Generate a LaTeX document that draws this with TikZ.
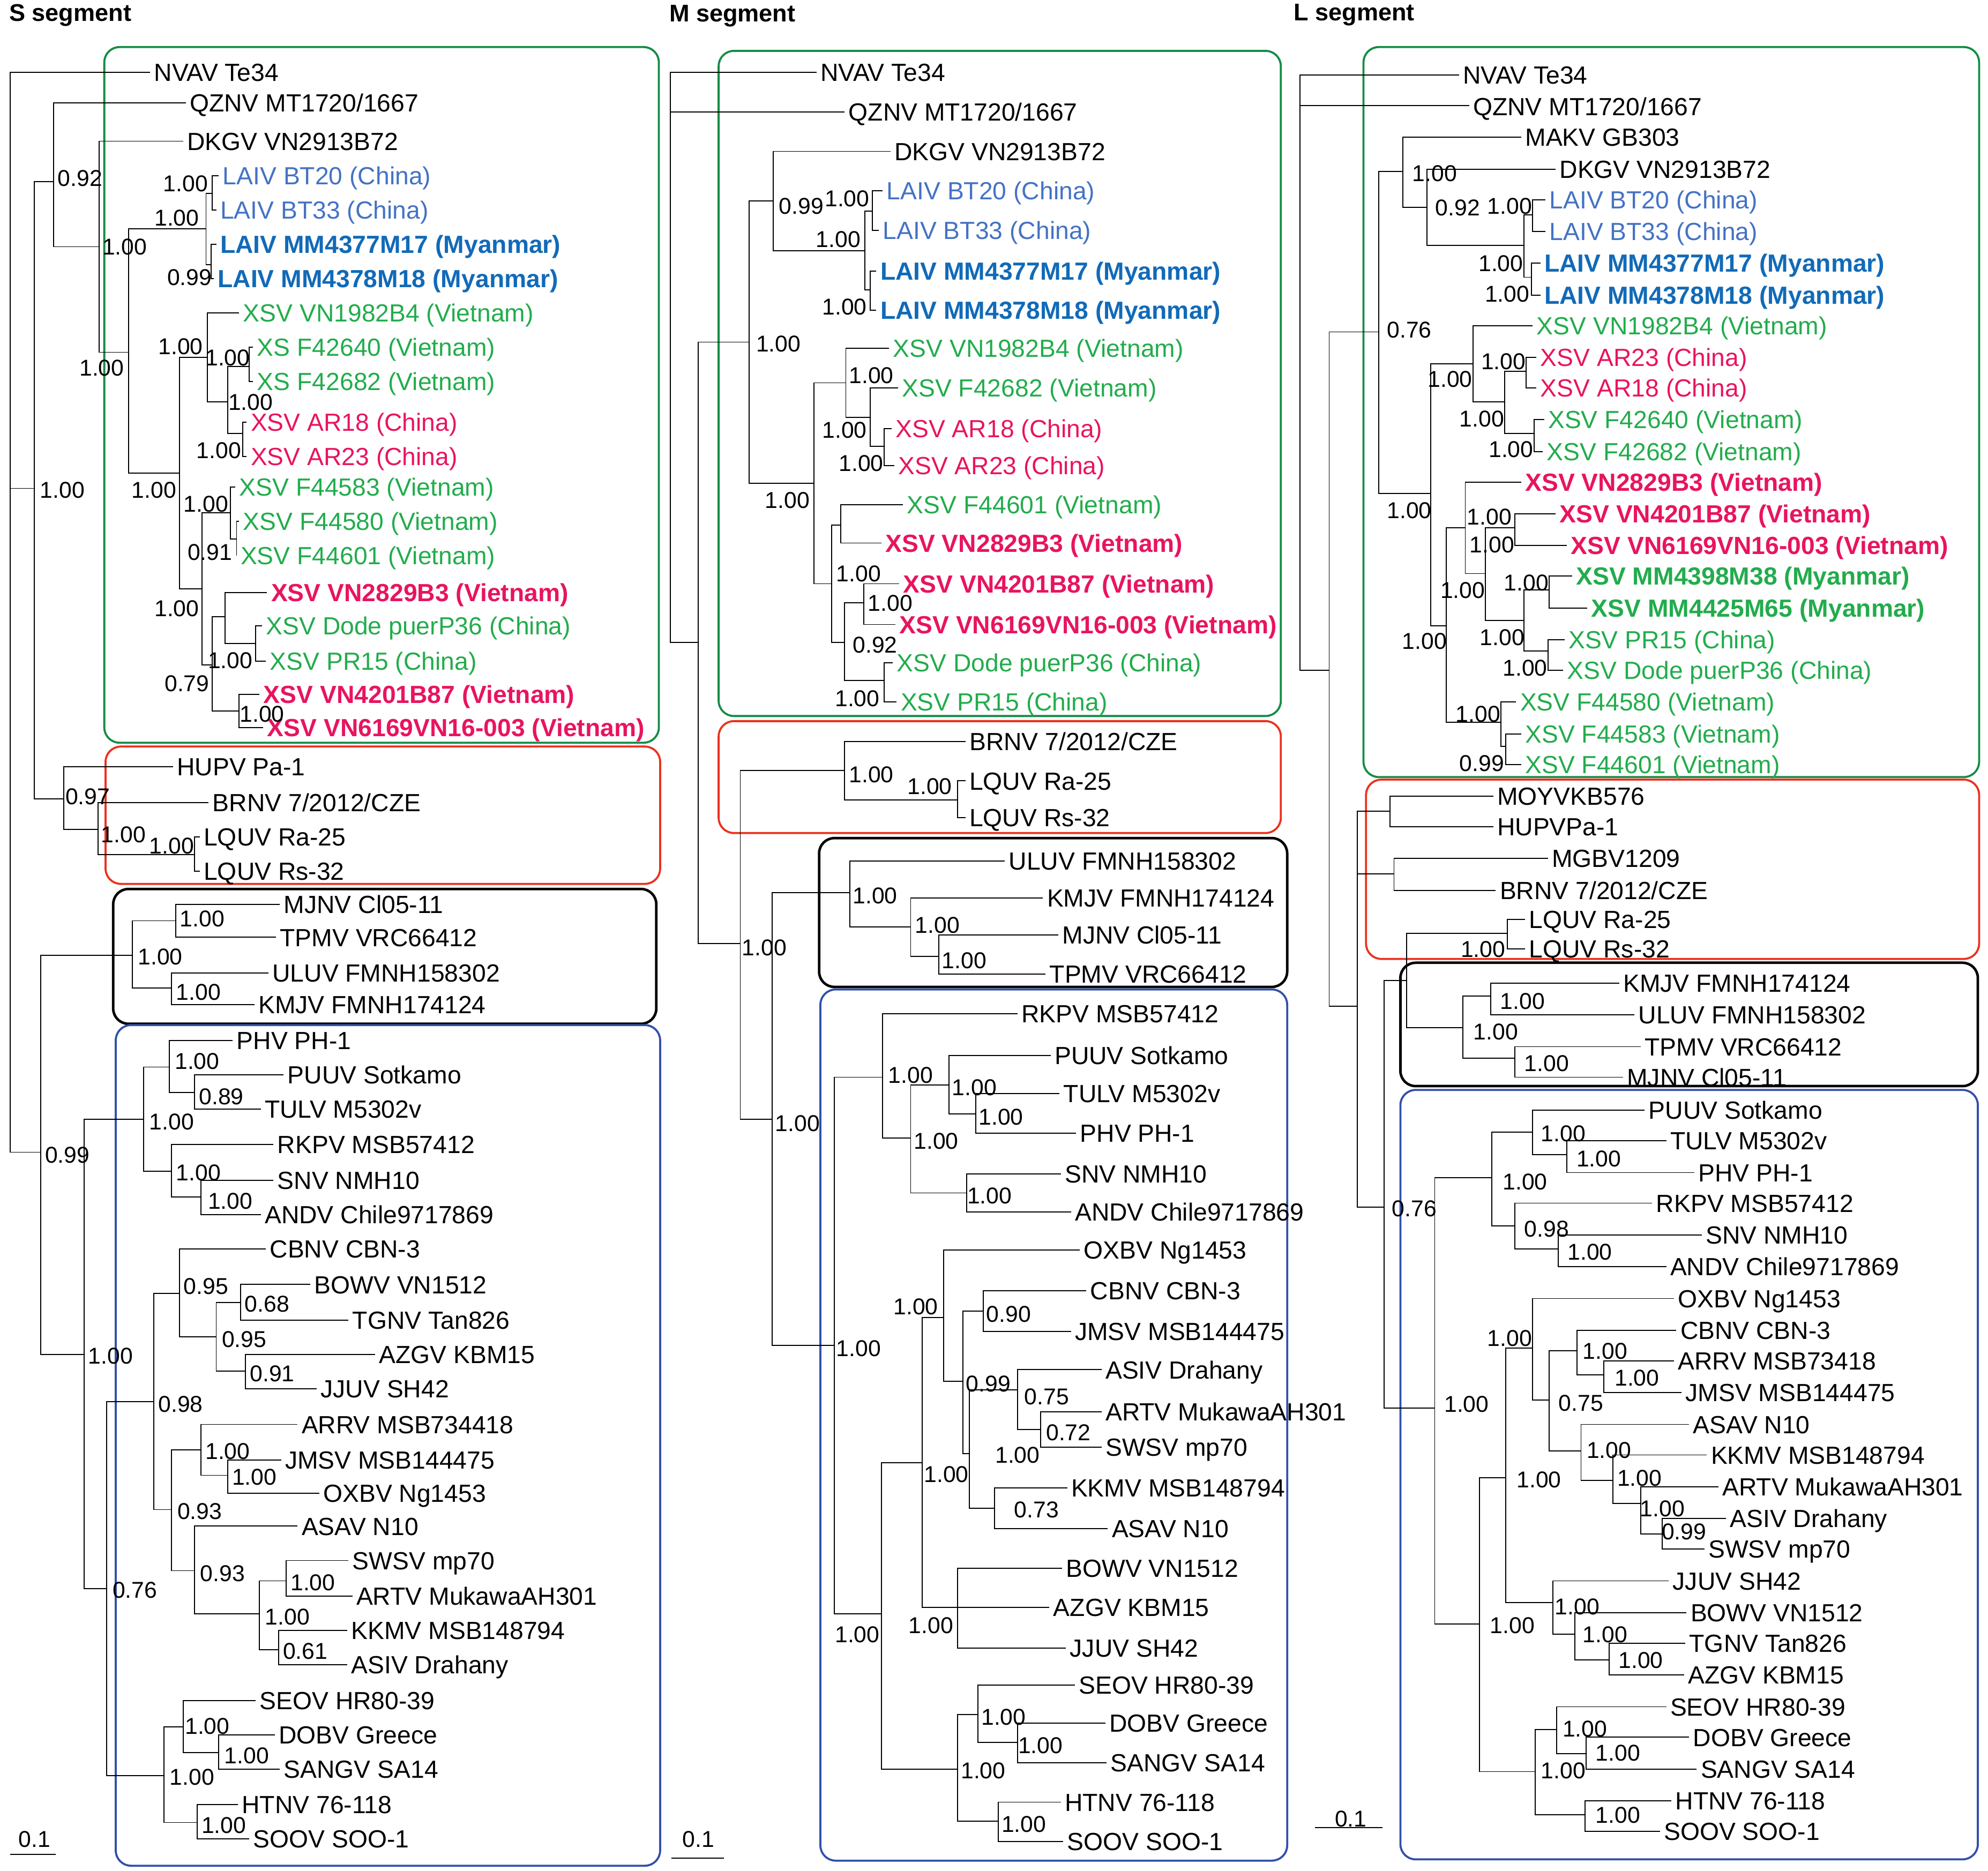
\documentclass[tikz,border=0pt]{standalone}
\usepackage{fontspec}
\setmainfont{Liberation Sans}
\definecolor{lblue}{RGB}{68,114,196}
\definecolor{dblue}{RGB}{17,106,184}
\definecolor{tgreen}{RGB}{34,172,76}
\definecolor{tred}{RGB}{232,20,95}
\definecolor{gbox}{RGB}{20,140,70}
\definecolor{rbox}{RGB}{235,50,30}
\definecolor{bbox}{RGB}{50,80,170}
\newcounter{lfc}
\newcommand\Lf[4][]{\stepcounter{lfc}\node[leaf,#1] (n\arabic{lfc}) at (#2,#3) {#4};}
\newcommand\Bn[5]{\draw[br] (#2,#3) -| (#1,#5) -- (#4,#5);}
\newcommand\Bs[3]{\node[bsl] at (#1,#2) {#3};}
\begin{document}
\begin{tikzpicture}[x=1pt,y=-1pt,
  leaf/.style={anchor=west,inner sep=0pt,font=\fontsize{19.5}{21}\selectfont,text height=14pt,text depth=0pt},
  bsl/.style={inner sep=0pt,font=\fontsize{18}{19}\selectfont,text height=13pt,text depth=0pt},
  br/.style={line width=0.8pt},
  lb/.style={text=lblue}, db/.style={text=dblue,font=\fontsize{19.5}{21}\selectfont\bfseries},
  gr/.style={text=tgreen}, rd/.style={text=tred},
  rb/.style={text=tred,font=\fontsize{19.5}{21}\selectfont\bfseries},
  gb/.style={text=tgreen,font=\fontsize{19.5}{21}\selectfont\bfseries},
  box/.style={rounded corners=12pt,line width=1.6pt},
  hd/.style={anchor=north west,inner sep=0pt,font=\fontsize{19}{21}\selectfont\bfseries}]
\useasboundingbox (0,0) rectangle (1563,1471);
% headers
\node[hd] (hS) at (7,3) {S segment};
\node[hd] (hM) at (526,4) {M segment};
\node[hd] (hL) at (1017,3) {L segment};
% boxes
\draw[box,gbox] (82,37) rectangle (518,584);
\draw[box,rbox] (83,587) rectangle (519,695);
\draw[box,black,line width=2pt] (89,699) rectangle (516,805);
\draw[box,bbox] (91,806) rectangle (519,1467);
\draw[box,gbox] (565,40) rectangle (1007,563);
\draw[box,rbox] (565,567) rectangle (1007,655);
\draw[box,black,line width=2pt] (644,659) rectangle (1012,776);
\draw[box,bbox] (645,778) rectangle (1012,1463);
\draw[box,gbox] (1072,37) rectangle (1556,611);
\draw[box,rbox] (1074,613) rectangle (1556,754);
\draw[box,black,line width=2pt] (1101,757) rectangle (1555,854);
\draw[box,bbox] (1101,857) rectangle (1555,1462);
% ================= S segment =================
\Lf{121}{57}{NVAV Te34}
\Lf{149}{81}{QZNV MT1720/1667}
\Lf{147}{111}{DKGV VN2913B72}
\Lf[lb]{175}{138}{LAIV BT20 (China)}
\Lf[lb]{173}{165}{LAIV BT33 (China)}
\Lf[db]{173}{192}{LAIV MM4377M17 (Myanmar)}
\Lf[db]{171}{219}{LAIV MM4378M18 (Myanmar)}
\Lf[gr]{191}{246}{XSV VN1982B4 (Vietnam)}
\Lf[gr]{202}{273}{XS F42640 (Vietnam)}
\Lf[gr]{202}{300}{XS F42682 (Vietnam)}
\Lf[rd]{197}{332}{XSV AR18 (China)}
\Lf[rd]{197}{359}{XSV AR23 (China)}
\Lf[gr]{188}{383}{XSV F44583 (Vietnam)}
\Lf[gr]{191}{410}{XSV F44580 (Vietnam)}
\Lf[gr]{189}{437}{XSV F44601 (Vietnam)}
\Lf[rb]{213}{466}{XSV VN2829B3 (Vietnam)}
\Lf[gr]{209}{492}{XSV Dode puerP36 (China)}
\Lf[gr]{212}{520}{XSV PR15 (China)}
\Lf[rb]{207}{546}{XSV VN4201B87 (Vietnam)}
\Lf[rb]{210}{572}{XSV VN6169VN16-003 (Vietnam)}
\Lf{139}{603}{HUPV Pa-1}
\Lf{167}{631}{BRNV 7/2012/CZE}
\Lf{160}{658}{LQUV Ra-25}
\Lf{160}{685}{LQUV Rs-32}
\Lf{223}{711}{MJNV Cl05-11}
\Lf{220}{737}{TPMV VRC66412}
\Lf{214}{765}{ULUV FMNH158302}
\Lf{203}{790}{KMJV FMNH174124}
\Lf{186}{818}{PHV PH-1}
\Lf{226}{845}{PUUV Sotkamo}
\Lf{208}{872}{TULV M5302v}
\Lf{218}{900}{RKPV MSB57412}
\Lf{218}{928}{SNV NMH10}
\Lf{208}{955}{ANDV Chile9717869}
\Lf{212}{982}{CBNV CBN-3}
\Lf{247}{1010}{BOWV VN1512}
\Lf{277}{1038}{TGNV Tan826}
\Lf{298}{1065}{AZGV KBM15}
\Lf{252}{1092}{JJUV SH42}
\Lf{237}{1120}{ARRV MSB734418}
\Lf{224}{1148}{JMSV MSB144475}
\Lf{254}{1174}{OXBV Ng1453}
\Lf{237}{1200}{ASAV N10}
\Lf{277}{1227}{SWSV mp70}
\Lf{280}{1255}{ARTV MukawaAH301}
\Lf{276}{1282}{KKMV MSB148794}
\Lf{276}{1309}{ASIV Drahany}
\Lf{204}{1337}{SEOV HR80-39}
\Lf{219}{1364}{DOBV Greece}
\Lf{223}{1391}{SANGV SA14}
\Lf{190}{1419}{HTNV 76-118}
\Lf{199}{1446}{SOOV SOO-1}
\draw[br] (118,57) -| (8,906) -- (32,906); \draw[br] (8,384) -- (27,384);
\Bn{27}{42}{143}{50}{628}
\Bn{42}{146}{81}{78}{194}
\Bn{78}{144}{111}{101}{277}
\Bn{101}{162}{180}{141}{372}
\Bn{162}{167}{152}{166}{208}
\Bn{167}{172}{138}{170}{165}
\Bn{166}{170}{192}{168}{219}
\Bn{141}{163}{281}{159}{463}
\Bn{163}{188}{246}{179}{316}
\Bn{179}{196}{288}{191}{341}
\Bn{196}{199}{273}{199}{300}
\Bn{191}{194}{332}{194}{359}
\Bn{159}{181}{403}{167}{523}
\Bn{181}{185}{383}{186}{424}
\Bn{186}{188}{410}{186}{437}
\Bn{167}{177}{485}{188}{559}
\Bn{177}{210}{466}{201}{506}
\Bn{201}{206}{492}{209}{520}
\Bn{188}{204}{546}{207}{572}
\Bn{50}{136}{603}{77}{652}
\Bn{77}{164}{631}{153}{672}
\Bn{153}{157}{658}{157}{685}
\Bn{32}{104}{751}{66}{1065}
\Bn{104}{138}{724}{135}{777}
\Bn{138}{220}{711}{217}{737}
\Bn{135}{211}{765}{200}{790}
\Bn{66}{113}{880}{84}{1249}
\Bn{113}{133}{839}{135}{921}
\Bn{133}{183}{818}{153}{859}
\Bn{153}{223}{845}{205}{872}
\Bn{135}{215}{900}{158}{941}
\Bn{158}{215}{928}{205}{955}
\Bn{84}{121}{1102}{129}{1396}
\Bn{121}{141}{1017}{135}{1187}
\Bn{141}{209}{982}{170}{1051}
\Bn{170}{189}{1024}{193}{1078}
\Bn{189}{244}{1010}{274}{1038}
\Bn{193}{295}{1065}{249}{1092}
\Bn{135}{158}{1140}{153}{1235}
\Bn{158}{234}{1120}{179}{1160}
\Bn{179}{221}{1148}{251}{1174}
\Bn{153}{234}{1200}{204}{1269}
\Bn{204}{225}{1243}{219}{1297}
\Bn{225}{274}{1227}{277}{1255}
\Bn{219}{273}{1282}{273}{1309}
\Bn{129}{144}{1358}{155}{1433}
\Bn{144}{201}{1337}{172}{1378}
\Bn{172}{216}{1364}{220}{1391}
\Bn{155}{187}{1419}{196}{1446}
\Bs{63}{140}{0.92}\Bs{98}{194}{1.00}\Bs{80}{289}{1.00}\Bs{146}{144}{1.00}
\Bs{139}{171}{1.00}\Bs{149}{218}{0.99}\Bs{142}{272}{1.00}\Bs{179}{281}{1.00}
\Bs{197}{316}{1.00}\Bs{172}{354}{1.00}\Bs{121}{385}{1.00}\Bs{162}{396}{1.00}
\Bs{165}{434}{0.91}\Bs{139}{478}{1.00}\Bs{147}{537}{0.79}\Bs{181}{519}{1.00}
\Bs{206}{561}{1.00}\Bs{49}{385}{1.00}\Bs{69}{626}{0.97}\Bs{97}{656}{1.00}
\Bs{135}{665}{1.00}\Bs{53}{908}{0.99}\Bs{126}{752}{1.00}\Bs{159}{722}{1.00}
\Bs{156}{780}{1.00}\Bs{87}{1066}{1.00}\Bs{135}{882}{1.00}\Bs{155}{834}{1.00}
\Bs{174}{862}{0.89}\Bs{156}{922}{1.00}\Bs{181}{944}{1.00}\Bs{106}{1250}{0.76}
\Bs{142}{1104}{0.98}\Bs{162}{1011}{0.95}\Bs{192}{1053}{0.95}\Bs{210}{1025}{0.68}
\Bs{214}{1080}{0.91}\Bs{179}{1141}{1.00}\Bs{200}{1161}{1.00}\Bs{157}{1188}{0.93}
\Bs{175}{1237}{0.93}\Bs{226}{1271}{1.00}\Bs{246}{1244}{1.00}\Bs{240}{1298}{0.61}
\Bs{151}{1397}{1.00}\Bs{163}{1357}{1.00}\Bs{194}{1380}{1.00}\Bs{176}{1435}{1.00}
\coordinate (sa) at (8,1458); \coordinate (sb) at (44,1458);
\draw[br] (sa) -- (sb); \Bs{27}{1446}{0.1}
% ================= M segment =================
\Lf{645}{57}{NVAV Te34}
\Lf{667}{88}{QZNV MT1720/1667}
\Lf{703}{119}{DKGV VN2913B72}
\Lf[lb]{697}{150}{LAIV BT20 (China)}
\Lf[lb]{694}{181}{LAIV BT33 (China)}
\Lf[db]{692}{213}{LAIV MM4377M17 (Myanmar)}
\Lf[db]{692}{244}{LAIV MM4378M18 (Myanmar)}
\Lf[gr]{702}{274}{XSV VN1982B4 (Vietnam)}
\Lf[gr]{709}{305}{XSV F42682 (Vietnam)}
\Lf[rd]{704}{337}{XSV AR18 (China)}
\Lf[rd]{706}{366}{XSV AR23 (China)}
\Lf[gr]{713}{397}{XSV F44601 (Vietnam)}
\Lf[rb]{696}{427}{XSV VN2829B3 (Vietnam)}
\Lf[rb]{710}{459}{XSV VN4201B87 (Vietnam)}
\Lf[rb]{707}{491}{XSV VN6169VN16-003 (Vietnam)}
\Lf[gr]{705}{521}{XSV Dode puerP36 (China)}
\Lf[gr]{708}{552}{XSV PR15 (China)}
\Lf{762}{583}{BRNV 7/2012/CZE}
\Lf{762}{614}{LQUV Ra-25}
\Lf{762}{643}{LQUV Rs-32}
\Lf{793}{677}{ULUV FMNH158302}
\Lf{823}{706}{KMJV FMNH174124}
\Lf{835}{735}{MJNV Cl05-11}
\Lf{825}{766}{TPMV VRC66412}
\Lf{803}{797}{RKPV MSB57412}
\Lf{829}{830}{PUUV Sotkamo}
\Lf{836}{860}{TULV M5302v}
\Lf{849}{891}{PHV PH-1}
\Lf{837}{923}{SNV NMH10}
\Lf{845}{953}{ANDV Chile9717869}
\Lf{852}{983}{OXBV Ng1453}
\Lf{857}{1015}{CBNV CBN-3}
\Lf{845}{1047}{JMSV MSB144475}
\Lf{869}{1077}{ASIV Drahany}
\Lf{869}{1110}{ARTV MukawaAH301}
\Lf{869}{1138}{SWSV mp70}
\Lf{842}{1170}{KKMV MSB148794}
\Lf{874}{1202}{ASAV N10}
\Lf{838}{1233}{BOWV VN1512}
\Lf{828}{1264}{AZGV KBM15}
\Lf{841}{1296}{JJUV SH42}
\Lf{848}{1325}{SEOV HR80-39}
\Lf{872}{1355}{DOBV Greece}
\Lf{873}{1386}{SANGV SA14}
\Lf{837}{1417}{HTNV 76-118}
\Lf{839}{1448}{SOOV SOO-1}
\draw[br] (642,57) -| (527,505) -- (549,505); \draw[br] (527,88) -- (664,88);
\Bn{549}{589}{269}{582}{742}
\Bn{589}{608}{158}{640}{380}
\Bn{608}{700}{119}{680}{197}
\Bn{680}{686}{166}{684}{228}
\Bn{686}{694}{150}{691}{181}
\Bn{684}{689}{213}{689}{244}
\Bn{640}{665}{301}{654}{459}
\Bn{665}{699}{274}{684}{328}
\Bn{684}{706}{305}{695}{351}
\Bn{695}{701}{337}{703}{366}
\Bn{654}{661}{413}{664}{505}
\Bn{661}{710}{397}{693}{427}
\Bn{664}{679}{474}{695}{535}
\Bn{679}{707}{459}{704}{491}
\Bn{695}{702}{521}{705}{552}
\Bn{582}{664}{606}{607}{880}
\Bn{664}{759}{583}{753}{629}
\Bn{753}{759}{614}{759}{643}
\Bn{607}{668}{702}{656}{1058}
\Bn{668}{790}{677}{716}{729}
\Bn{716}{820}{706}{738}{752}
\Bn{738}{832}{735}{822}{766}
\Bn{656}{694}{847}{693}{1269}
\Bn{694}{800}{797}{716}{895}
\Bn{716}{746}{853}{760}{938}
\Bn{746}{826}{830}{767}{876}
\Bn{767}{833}{860}{846}{891}
\Bn{760}{834}{923}{842}{953}
\Bn{693}{725}{1150}{753}{1391}
\Bn{725}{742}{1036}{753}{1264}
\Bn{742}{849}{983}{757}{1086}
\Bn{757}{773}{1031}{762}{1143}
\Bn{773}{854}{1015}{842}{1047}
\Bn{762}{800}{1093}{782}{1186}
\Bn{800}{866}{1077}{818}{1124}
\Bn{818}{866}{1110}{866}{1138}
\Bn{782}{839}{1170}{871}{1202}
\Bn{753}{835}{1233}{838}{1296}
\draw[br] (753,1264) -- (825,1264);
\Bn{753}{769}{1348}{785}{1432}
\Bn{769}{845}{1325}{800}{1370}
\Bn{800}{869}{1355}{870}{1386}
\Bn{785}{834}{1417}{836}{1448}
\Bs{630}{162}{0.99}\Bs{666}{156}{1.00}\Bs{659}{188}{1.00}\Bs{664}{241}{1.00}
\Bs{612}{270}{1.00}\Bs{685}{295}{1.00}\Bs{664}{338}{1.00}\Bs{677}{364}{1.00}
\Bs{619}{393}{1.00}\Bs{675}{451}{1.00}\Bs{700}{474}{1.00}\Bs{688}{507}{0.92}
\Bs{674}{549}{1.00}\Bs{685}{609}{1.00}\Bs{731}{618}{1.00}\Bs{601}{745}{1.00}
\Bs{688}{704}{1.00}\Bs{737}{727}{1.00}\Bs{758}{755}{1.00}\Bs{627}{883}{1.00}
\Bs{716}{845}{1.00}\Bs{766}{855}{1.00}\Bs{787}{878}{1.00}\Bs{736}{897}{1.00}
\Bs{778}{940}{1.00}\Bs{675}{1060}{1.00}\Bs{720}{1027}{1.00}\Bs{793}{1033}{0.90}
\Bs{777}{1088}{0.99}\Bs{823}{1098}{0.75}\Bs{840}{1126}{0.72}\Bs{800}{1144}{1.00}
\Bs{815}{1187}{0.73}\Bs{744}{1159}{1.00}\Bs{732}{1278}{1.00}\Bs{674}{1285}{1.00}
\Bs{789}{1350}{1.00}\Bs{818}{1372}{1.00}\Bs{773}{1392}{1.00}\Bs{805}{1434}{1.00}
\coordinate (ma) at (528,1461); \coordinate (mb) at (569,1461);
\draw[br] (ma) -- (mb); \Bs{549}{1446}{0.1}
% ================= L segment =================
\Lf{1150}{59}{NVAV Te34}
\Lf{1158}{84}{QZNV MT1720/1667}
\Lf{1199}{108}{MAKV GB303}
\Lf{1226}{133}{DKGV VN2913B72}
\Lf[lb]{1218}{157}{LAIV BT20 (China)}
\Lf[lb]{1218}{182}{LAIV BT33 (China)}
\Lf[db]{1214}{207}{LAIV MM4377M17 (Myanmar)}
\Lf[db]{1214}{232}{LAIV MM4378M18 (Myanmar)}
\Lf[gr]{1208}{256}{XSV VN1982B4 (Vietnam)}
\Lf[rd]{1211}{281}{XSV AR23 (China)}
\Lf[rd]{1211}{305}{XSV AR18 (China)}
\Lf[gr]{1217}{330}{XSV F42640 (Vietnam)}
\Lf[gr]{1216}{355}{XSV F42682 (Vietnam)}
\Lf[rb]{1199}{379}{XSV VN2829B3 (Vietnam)}
\Lf[rb]{1226}{404}{XSV VN4201B87 (Vietnam)}
\Lf[rb]{1235}{429}{XSV VN6169VN16-003 (Vietnam)}
\Lf[gb]{1239}{453}{XSV MM4398M38 (Myanmar)}
\Lf[gb]{1251}{478}{XSV MM4425M65 (Myanmar)}
\Lf[gr]{1233}{503}{XSV PR15 (China)}
\Lf[gr]{1232}{527}{XSV Dode puerP36 (China)}
\Lf[gr]{1195}{552}{XSV F44580 (Vietnam)}
\Lf[gr]{1199}{577}{XSV F44583 (Vietnam)}
\Lf[gr]{1199}{601}{XSV F44601 (Vietnam)}
\Lf{1177}{626}{MOYVKB576}
\Lf{1177}{650}{HUPVPa-1}
\Lf{1220}{675}{MGBV1209}
\Lf{1179}{700}{BRNV 7/2012/CZE}
\Lf{1202}{723}{LQUV Ra-25}
\Lf{1202}{746}{LQUV Rs-32}
\Lf{1276}{773}{KMJV FMNH174124}
\Lf{1288}{798}{ULUV FMNH158302}
\Lf{1293}{823}{TPMV VRC66412}
\Lf{1279}{847}{MJNV Cl05-11}
\Lf{1296}{873}{PUUV Sotkamo}
\Lf{1313}{897}{TULV M5302v}
\Lf{1335}{922}{PHV PH-1}
\Lf{1302}{946}{RKPV MSB57412}
\Lf{1341}{971}{SNV NMH10}
\Lf{1313}{996}{ANDV Chile9717869}
\Lf{1319}{1021}{OXBV Ng1453}
\Lf{1321}{1046}{CBNV CBN-3}
\Lf{1319}{1070}{ARRV MSB73418}
\Lf{1325}{1095}{JMSV MSB144475}
\Lf{1331}{1120}{ASAV N10}
\Lf{1345}{1144}{KKMV MSB148794}
\Lf{1354}{1169}{ARTV MukawaAH301}
\Lf{1360}{1194}{ASIV Drahany}
\Lf{1343}{1218}{SWSV mp70}
\Lf{1315}{1243}{JJUV SH42}
\Lf{1329}{1268}{BOWV VN1512}
\Lf{1328}{1292}{TGNV Tan826}
\Lf{1327}{1317}{AZGV KBM15}
\Lf{1313}{1342}{SEOV HR80-39}
\Lf{1331}{1366}{DOBV Greece}
\Lf{1337}{1391}{SANGV SA14}
\Lf{1317}{1416}{HTNV 76-118}
\Lf{1308}{1440}{SOOV SOO-1}
\draw[br] (1147,59) -| (1022,527) -- (1045,527); \draw[br] (1022,83) -- (1155,83);
\Bn{1045}{1084}{261}{1067}{791}
\Bn{1084}{1103}{135}{1125}{388}
\Bn{1103}{1196}{108}{1122}{163}
\Bn{1122}{1223}{133}{1198}{193}
\Bn{1198}{1205}{169}{1204}{218}
\Bn{1205}{1215}{157}{1215}{182}
\Bn{1204}{1211}{207}{1211}{232}
\Bn{1125}{1158}{286}{1137}{492}
\Bn{1158}{1205}{256}{1183}{316}
\Bn{1183}{1200}{292}{1206}{341}
\Bn{1200}{1208}{281}{1208}{305}
\Bn{1206}{1214}{330}{1213}{355}
\Bn{1137}{1152}{415}{1180}{568}
\Bn{1152}{1196}{379}{1168}{451}
\Bn{1168}{1191}{415}{1198}{488}
\Bn{1191}{1223}{404}{1232}{429}
\Bn{1198}{1218}{464}{1217}{512}
\Bn{1218}{1236}{453}{1248}{478}
\Bn{1217}{1230}{503}{1229}{527}
\Bn{1180}{1192}{552}{1184}{587}
\Bn{1184}{1196}{577}{1196}{601}
\Bn{1067}{1093}{638}{1088}{949}
\draw[br] (1067,687) -- (1096,687);
\Bn{1093}{1174}{626}{1174}{650}
\Bn{1096}{1217}{675}{1176}{700}
\Bn{1088}{1106}{771}{1128}{1107}
\Bn{1106}{1185}{734}{1150}{808}
\Bn{1185}{1199}{723}{1199}{746}
\Bn{1150}{1172}{783}{1191}{832}
\Bn{1172}{1273}{773}{1285}{798}
\Bn{1191}{1290}{823}{1276}{847}
\Bn{1128}{1173}{926}{1163}{1277}
\Bn{1173}{1205}{890}{1191}{964}
\Bn{1205}{1293}{873}{1232}{908}
\Bn{1232}{1310}{897}{1332}{922}
\Bn{1191}{1299}{946}{1225}{982}
\Bn{1225}{1338}{971}{1310}{996}
\Bn{1163}{1184}{1162}{1207}{1393}
\Bn{1184}{1205}{1060}{1221}{1260}
\Bn{1205}{1316}{1021}{1218}{1101}
\Bn{1218}{1240}{1062}{1243}{1141}
\Bn{1240}{1318}{1046}{1261}{1081}
\Bn{1261}{1316}{1070}{1322}{1095}
\Bn{1243}{1328}{1120}{1268}{1164}
\Bn{1268}{1342}{1144}{1290}{1182}
\Bn{1290}{1351}{1169}{1307}{1206}
\Bn{1307}{1357}{1194}{1340}{1218}
\Bn{1221}{1312}{1243}{1238}{1285}
\Bn{1238}{1326}{1268}{1265}{1305}
\Bn{1265}{1325}{1292}{1324}{1317}
\Bn{1207}{1224}{1360}{1246}{1427}
\Bn{1224}{1310}{1342}{1247}{1379}
\Bn{1247}{1328}{1366}{1334}{1391}
\Bn{1246}{1314}{1416}{1305}{1440}
\Bs{1108}{259}{0.76}\Bs{1128}{136}{1.00}\Bs{1146}{163}{0.92}\Bs{1187}{162}{1.00}
\Bs{1180}{207}{1.00}\Bs{1185}{231}{1.00}\Bs{1140}{298}{1.00}\Bs{1182}{284}{1.00}
\Bs{1165}{329}{1.00}\Bs{1188}{353}{1.00}\Bs{1108}{401}{1.00}\Bs{1120}{504}{1.00}
\Bs{1150}{464}{1.00}\Bs{1171}{406}{1.00}\Bs{1173}{428}{1.00}\Bs{1181}{501}{1.00}
\Bs{1200}{458}{1.00}\Bs{1199}{525}{1.00}\Bs{1162}{561}{1.00}\Bs{1165}{600}{0.99}
\Bs{1166}{746}{1.00}\Bs{1197}{787}{1.00}\Bs{1176}{811}{1.00}\Bs{1216}{836}{1.00}
\Bs{1112}{950}{0.76}\Bs{1153}{1104}{1.00}\Bs{1199}{929}{1.00}\Bs{1229}{891}{1.00}
\Bs{1257}{911}{1.00}\Bs{1216}{966}{0.98}\Bs{1250}{984}{1.00}\Bs{1189}{1278}{1.00}
\Bs{1187}{1052}{1.00}\Bs{1210}{1163}{1.00}\Bs{1243}{1103}{0.75}\Bs{1262}{1062}{1.00}
\Bs{1287}{1083}{1.00}\Bs{1265}{1140}{1.00}\Bs{1289}{1162}{1.00}\Bs{1307}{1186}{1.00}
\Bs{1324}{1204}{0.99}\Bs{1240}{1263}{1.00}\Bs{1262}{1285}{1.00}\Bs{1290}{1305}{1.00}
\Bs{1229}{1392}{1.00}\Bs{1246}{1359}{1.00}\Bs{1272}{1378}{1.00}\Bs{1272}{1427}{1.00}
\coordinate (la) at (1034,1437); \coordinate (lb) at (1087,1437);
\draw[br] (la) -- (lb); \Bs{1062}{1430}{0.1}
\end{tikzpicture}
\end{document}
